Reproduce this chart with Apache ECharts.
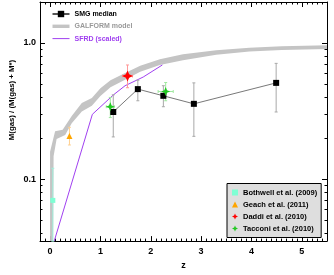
<!DOCTYPE html>
<html><head><meta charset="utf-8">
<script src="https://cdn.jsdelivr.net/npm/echarts@6/dist/echarts.min.js"></script>
<style>html,body{margin:0;padding:0;background:#fff}#c{width:334px;height:275px}</style>
</head><body><div id="c"></div>
<script>
// ---- data ----
const smgZ = [1.255, 1.743, 2.25, 2.856, 4.49];
const smgF = [0.311, 0.458, 0.409, 0.357, 0.509];
const smgLo = [0.204, 0.376, 0.34, 0.206, 0.311];
const smgHi = [0.416, 0.532, 0.485, 0.509, 0.708];

const bothZ = [0.055], bothF = [0.0697], bothLo = [0.035], bothHi = [0.12];
const geachZ = [0.385], geachF = [0.207], geachLo = [0.178], geachHi = [0.240];
const daddiZ = [1.538], daddiF = [0.572], daddiLo = [0.469], daddiHi = [0.689], daddiZerr = [0.1];
const tacZ = [1.196, 2.296], tacF = [0.34, 0.44], tacLo = [0.283, 0.376], tacHi = [0.398, 0.512], tacZerr = [0.08, 0.15];

const galUpZ = [0, 0, 0.1, 0.25, 0.43, 0.63, 0.83, 1.0, 1.2, 1.46, 1.79, 2.18, 2.64, 3.3, 3.96, 4.6, 5.5];
const galUpF = [0.035, 0.159, 0.225, 0.23, 0.291, 0.362, 0.394, 0.464, 0.532, 0.594, 0.681, 0.760, 0.825, 0.885, 0.921, 0.946, 0.962];
const galLoZ = [0.06, 0.07, 0.13, 0.3, 0.43, 0.63, 0.83, 1.0, 1.2, 1.46, 1.79, 2.18, 2.64, 3.3, 3.96, 4.6, 5.5];
const galLoF = [0.035, 0.147, 0.197, 0.211, 0.257, 0.313, 0.345, 0.407, 0.472, 0.529, 0.614, 0.689, 0.747, 0.818, 0.867, 0.889, 0.903];

const sfrdZ = [0.083, 0.84, 1.26, 1.49, 1.85, 2.23];
const sfrdF = [0.035, 0.299, 0.416, 0.485, 0.562, 0.689];

const xTickVals = [0, 1, 2, 3, 4, 5];
const xTickLabels = ['0', '1', '2', '3', '4', '5'];
const yTickVals = [0.1, 1];
const yTickLabels = ['0.1', '1.0'];
const yMinorVals = [0.04, 0.05, 0.06, 0.07, 0.08, 0.09, 0.2, 0.3, 0.4, 0.5, 0.6, 0.7, 0.8, 0.9];

const X_MIN = -0.2, X_MAX = 5.5, Y_MIN = 0.035, Y_MAX = 2;

// ---- helpers ----
const L = Math.log10;
const FONT = 'Liberation Sans, Arial, sans-serif';
const xMinorVals = [];
for (let i = -1; i <= 54; i++) { if (i % 10 !== 0) xMinorVals.push(+(i / 10).toFixed(1)); }

function errData(z, f, lo, hi, zerr) {
  return z.map((v, i) => [v, L(lo[i]), L(hi[i]), L(f[i]), zerr ? v - zerr[i] : v, zerr ? v + zerr[i] : v]);
}
function errSeries(name, data, color) {
  return {
    type: 'custom', name: name, xAxisIndex: 0, yAxisIndex: 0, z: 3, silent: true,
    data: data,
    renderItem: function (params, api) {
      const x = api.value(0), lo = api.value(1), hi = api.value(2), y = api.value(3), xl = api.value(4), xh = api.value(5);
      const a = api.coord([x, lo]), b = api.coord([x, hi]);
      const st = { stroke: color, lineWidth: 1 };
      const c = 1.5;
      const ch = [
        { type: 'line', shape: { x1: a[0], y1: a[1], x2: b[0], y2: b[1] }, style: st },
        { type: 'line', shape: { x1: a[0] - c, y1: a[1], x2: a[0] + c, y2: a[1] }, style: st },
        { type: 'line', shape: { x1: b[0] - c, y1: b[1], x2: b[0] + c, y2: b[1] }, style: st }
      ];
      if (xh > xl) {
        const p = api.coord([xl, y]), q = api.coord([xh, y]);
        ch.push({ type: 'line', shape: { x1: p[0], y1: p[1], x2: q[0], y2: q[1] }, style: st });
        ch.push({ type: 'line', shape: { x1: p[0], y1: p[1] - c, x2: p[0], y2: p[1] + c }, style: st });
        ch.push({ type: 'line', shape: { x1: q[0], y1: q[1] - c, x2: q[0], y2: q[1] + c }, style: st });
      }
      return { type: 'group', children: ch };
    }
  };
}
const pts = (z, f) => z.map((v, i) => [v, L(f[i])]);
const STAR = 'path://M0,-10 L3,-3 L10,0 L3,3 L0,10 L-3,3 L-10,0 L-3,-3 Z';

function xAxisDef(pos, major) {
  return {
    type: 'value', position: pos, min: X_MIN, max: X_MAX,
    axisLine: { show: major, onZero: false, lineStyle: { color: '#000', width: 1 } },
    splitLine: { show: false },
    axisTick: { show: true, inside: true, length: major ? 5 : 2.5, customValues: major ? xTickVals : xMinorVals, lineStyle: { color: '#000', width: 1 } },
    axisLabel: (major && pos === 'bottom') ? {
      show: true, customValues: xTickVals, margin: 6, color: '#000', fontSize: 9, fontWeight: 'bold', fontFamily: FONT,
      formatter: v => { const i = xTickVals.findIndex(t => Math.abs(t - v) < 1e-6); return i >= 0 ? xTickLabels[i] : ''; }
    } : { show: false },
    name: (major && pos === 'bottom') ? 'z' : '', nameLocation: 'middle', nameGap: 15,
    nameTextStyle: { color: '#000', fontSize: 9, fontWeight: 'bold', fontFamily: FONT }
  };
}
function yAxisDef(pos, major) {
  return {
    type: 'value', position: pos, min: L(Y_MIN), max: L(Y_MAX),
    axisLine: { show: major, onZero: false, lineStyle: { color: '#000', width: 1 } },
    splitLine: { show: false },
    axisTick: { show: true, inside: true, length: major ? 5 : 2.5, customValues: (major ? yTickVals : yMinorVals).map(L), lineStyle: { color: '#000', width: 1 } },
    axisLabel: (major && pos === 'left') ? {
      show: true, customValues: yTickVals.map(L), margin: 4, color: '#000', fontSize: 9, fontWeight: 'bold', fontFamily: FONT,
      formatter: v => { const i = yTickVals.findIndex(t => Math.abs(L(t) - v) < 1e-6); return i >= 0 ? yTickLabels[i] : ''; }
    } : { show: false }
  };
}

const chart = echarts.init(document.getElementById('c'), null, { renderer: 'canvas' });
chart.setOption({
  animation: false,
  backgroundColor: '#fff',
  grid: { left: 40, right: 7, top: 2, bottom: 28, containLabel: false },
  xAxis: [xAxisDef('bottom', true), xAxisDef('bottom', false), xAxisDef('top', true), xAxisDef('top', false)],
  yAxis: [yAxisDef('left', true), yAxisDef('left', false), yAxisDef('right', true), yAxisDef('right', false)],
  graphic: [{
    type: 'text', x: 11.5, y: 100, rotation: Math.PI / 2,
    style: { text: 'M(gas) / (M(gas) + M*)', textAlign: 'center', textVerticalAlign: 'middle', fill: '#000', font: 'bold 7.8px ' + FONT }
  }],
  legend: [{
    left: 51.5, top: 10.5, orient: 'vertical', itemWidth: 17, itemHeight: 8, itemGap: 5.3, padding: 0,
    selectedMode: false,
    textStyle: { fontSize: 7, fontWeight: 'bold', fontFamily: FONT },
    data: [
      { name: 'SMG median', textStyle: { color: '#000' } },
      { name: 'GALFORM model', icon: 'path://M0,0h20v4h-20z', itemStyle: { color: '#c4c4c4' }, textStyle: { color: '#999' } },
      { name: 'SFRD (scaled)', icon: 'path://M0,0h17v1h-17z', itemStyle: { color: '#a040f0' }, textStyle: { color: '#a040f0' } }
    ]
  }, {
    left: 227, top: 183.5, orient: 'vertical', itemWidth: 6, itemHeight: 6, itemGap: 4,
    padding: [5, 4, 5, 5], backgroundColor: '#dedede', borderColor: '#000', borderWidth: 1,
    selectedMode: false,
    textStyle: { fontSize: 7.5, fontWeight: 'bold', fontFamily: FONT, color: '#000' },
    data: ['Bothwell et al. (2009)', 'Geach et al. (2011)', 'Daddi et al. (2010)', 'Tacconi et al. (2010)']
  }],
  series: [
    {
      type: 'custom', name: 'GALFORM model', xAxisIndex: 0, yAxisIndex: 0, z: 1, silent: true,
      itemStyle: { color: '#c4c4c4' },
      data: [0],
      renderItem: function (params, api) {
        const poly = [];
        galUpZ.forEach((z, i) => poly.push(api.coord([z, L(galUpF[i])])));
        for (let i = galLoZ.length - 1; i >= 0; i--) poly.push(api.coord([galLoZ[i], L(galLoF[i])]));
        return { type: 'polygon', shape: { points: poly }, style: { fill: '#c4c4c4', stroke: null, lineWidth: 0 } };
      }
    },
    {
      type: 'line', name: 'SFRD (scaled)', xAxisIndex: 0, yAxisIndex: 0, z: 2, silent: true,
      data: pts(sfrdZ, sfrdF), showSymbol: false, symbol: 'none',
      lineStyle: { color: '#a040f0', width: 1 }, itemStyle: { color: '#a040f0' }
    },
    errSeries('smgErr', errData(smgZ, smgF, smgLo, smgHi), '#a8a8a8'),
    errSeries('bothErr', errData(bothZ, bothF, bothLo, bothHi), '#a0f0dc'),
    errSeries('geachErr', errData(geachZ, geachF, geachLo, geachHi), '#ffd090'),
    errSeries('daddiErr', errData(daddiZ, daddiF, daddiLo, daddiHi, daddiZerr), '#ff9a9a'),
    errSeries('tacErr', errData(tacZ, tacF, tacLo, tacHi, tacZerr), '#a0e8a0'),
    {
      type: 'line', name: 'SMG median', xAxisIndex: 0, yAxisIndex: 0, z: 4, silent: true,
      data: pts(smgZ, smgF), symbol: 'rect', symbolSize: 6,
      lineStyle: { color: '#555', width: 0.8 }, itemStyle: { color: '#000' }
    },
    { type: 'scatter', name: 'Bothwell et al. (2009)', z: 5, silent: true, data: pts(bothZ, bothF), symbol: 'rect', symbolSize: 5, itemStyle: { color: '#7fffd4', opacity: 1 } },
    { type: 'scatter', name: 'Geach et al. (2011)', z: 5, silent: true, data: pts(geachZ, geachF), symbol: 'triangle', symbolSize: 6, itemStyle: { color: '#ffa500', opacity: 1 } },
    { type: 'scatter', name: 'Daddi et al. (2010)', z: 5, silent: true, data: pts(daddiZ, daddiF), symbol: STAR, symbolSize: 11, itemStyle: { color: '#ff0000', opacity: 1 } },
    { type: 'scatter', name: 'Tacconi et al. (2010)', z: 5, silent: true, data: pts(tacZ, tacF), symbol: STAR, symbolSize: 9, itemStyle: { color: '#22c822', opacity: 1 } }
  ]
});
</script></body></html>
